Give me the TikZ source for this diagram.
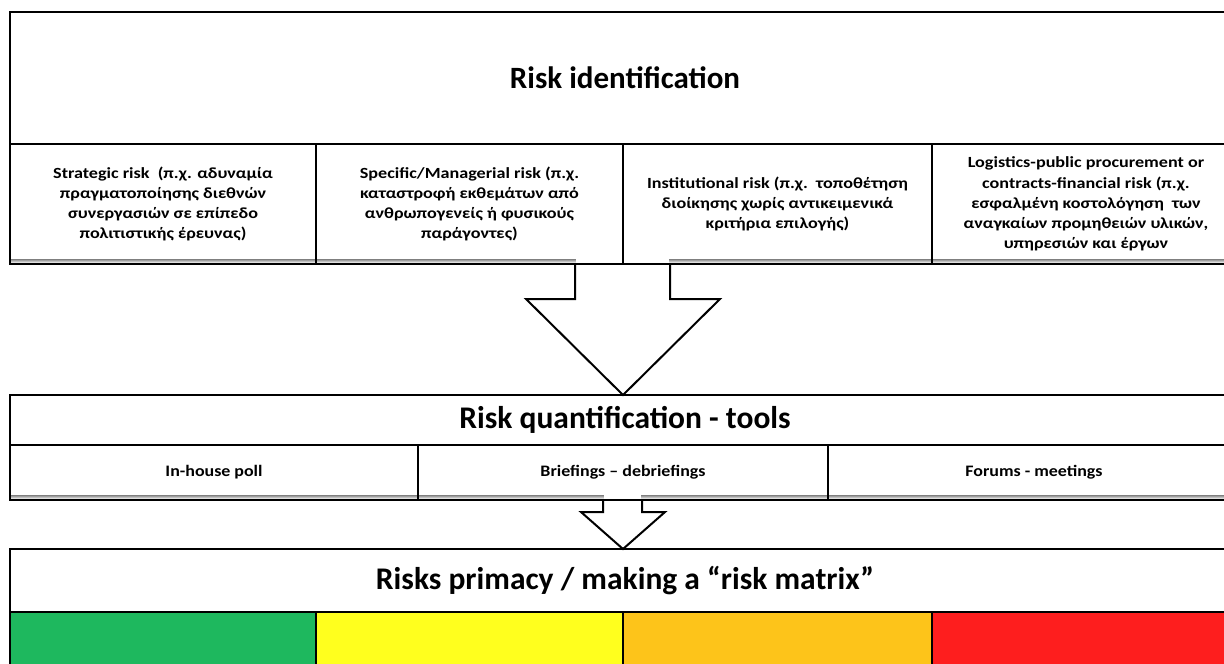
\documentclass[tikz,border=0pt]{standalone}
\usepackage{fontspec}
\setmainfont{Carlito}
\newfontfamily\widefont[FakeStretch=1.17]{Carlito}
\newfontfamily\toolfont[FakeStretch=1.12]{Carlito}
\definecolor{cgreen}{HTML}{1EB85E}
\definecolor{cyellow}{HTML}{FFFF1E}
\definecolor{corange}{HTML}{FDC41A}
\definecolor{cred}{HTML}{FE1E1E}
\definecolor{shade}{HTML}{EBEBEB}
\begin{document}
\begin{tikzpicture}[x=1pt,y=-1pt,line width=2pt,
  cell/.style={draw,line width=2pt,inner sep=0pt,outer sep=0pt,anchor=north west,align=center},
  big/.style={font=\bfseries\fontsize{31.5}{36}\selectfont},
  small/.style={font=\widefont\bfseries\fontsize{15.5}{20.2}\selectfont},
  tool/.style={font=\toolfont\bfseries\fontsize{16}{19}\selectfont},
  blockarrow/.style={draw,fill=white,line width=2pt,line join=miter}]
\useasboundingbox (0,0) rectangle (1224,664);
% shading bands
\fill[shade] (10,259) rectangle (1242,263);
\fill[shade] (10,495) rectangle (1242,499);
\fill[white] (576,257) rectangle (669,264);
\fill[white] (604,493) rectangle (641,500);
% arrow 1
\coordinate (a1tip) at (623,395);
\draw[blockarrow] (575,264) -- (575,299) -- (526,299) -- (a1tip) -- (720,299) -- (670,299) -- (670,264);
% arrow 2
\coordinate (a2tip) at (623,549);
\draw[blockarrow] (603,500) -- (603,512) -- (581,512) -- (a2tip) -- (665,512) -- (642,512) -- (642,500);
% box 1
\node[cell,big,font=\bfseries\fontsize{31}{36}\selectfont,minimum width=1230pt,minimum height=132pt] (h1) at (10,12) {Risk identification};
\node[cell,small,minimum width=306pt,minimum height=120pt] (c1) at (10,144) {Strategic risk\ \ (π.χ. αδυναμία\\πραγματοποίησης διεθνών\\συνεργασιών σε επίπεδο\\πολιτιστικής έρευνας)};
\node[cell,small,minimum width=307pt,minimum height=120pt] (c2) at (316,144) {Specific/Managerial risk (π.χ.\\καταστροφή εκθεμάτων από\\ανθρωπογενείς ή φυσικούς\\παράγοντες)};
\node[cell,small,minimum width=309pt,minimum height=120pt] (c3) at (623,144) {Institutional risk (π.χ.\ \ τοποθέτηση\\διοίκησης χωρίς αντικειμενικά\\κριτήρια επιλογής)};
\node[cell,small,minimum width=308pt,minimum height=120pt] (c4) at (932,144) {Logistics-public procurement or\\contracts-financial risk (π.χ.\\εσφαλμένη κοστολόγηση\ \ των\\αναγκαίων προμηθειών υλικών,\\υπηρεσιών και έργων};
% box 2
\node[cell,big,minimum width=1230pt,minimum height=50pt] (h2) at (10,395) {Risk quantification - tools};
\node[cell,tool,minimum width=408pt,minimum height=55pt] (t1) at (10,445) {In-house poll};
\node[cell,tool,minimum width=410pt,minimum height=55pt] (t2) at (418,445) {Briefings – debriefings};
\node[cell,tool,minimum width=412pt,minimum height=55pt] (t3) at (828,445) {Forums - meetings};
% box 3
\node[cell,big,minimum width=1230pt,minimum height=63pt] (h3) at (10,549) {Risks primacy / making a “risk matrix”};
\node[cell,fill=cgreen,minimum width=306pt,minimum height=60pt] (m1) at (10,612) {};
\node[cell,fill=cyellow,minimum width=307pt,minimum height=60pt] (m2) at (316,612) {};
\node[cell,fill=corange,minimum width=309pt,minimum height=60pt] (m3) at (623,612) {};
\node[cell,fill=cred,minimum width=308pt,minimum height=60pt] (m4) at (932,612) {};
\end{tikzpicture}
\end{document}
